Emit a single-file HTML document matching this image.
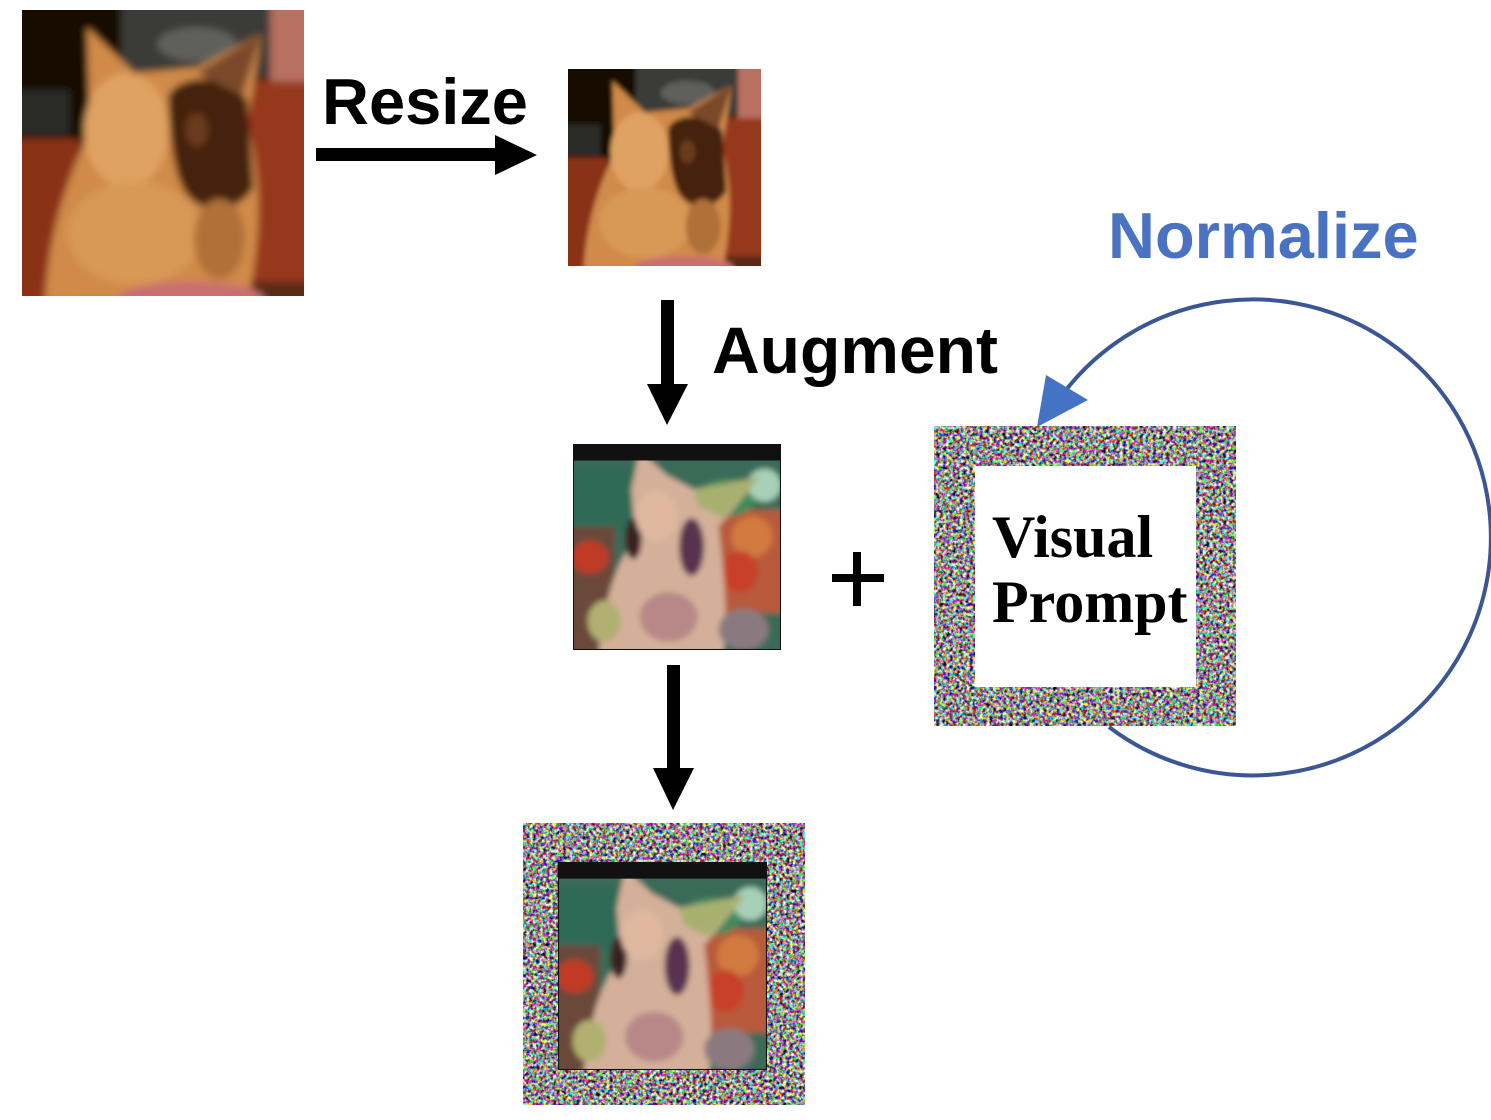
<!DOCTYPE html>
<html>
<head>
<meta charset="utf-8">
<style>
html,body{margin:0;padding:0;background:#fff;}
body{width:1491px;height:1120px;overflow:hidden;}
svg{display:block;}
</style>
</head>
<body>
<svg width="1491" height="1120" viewBox="0 0 1491 1120" xmlns="http://www.w3.org/2000/svg">
<defs>
  <filter id="noise" x="0" y="0" width="1" height="1" color-interpolation-filters="sRGB">
    <feTurbulence type="fractalNoise" baseFrequency="0.3" numOctaves="3" seed="7"/>
    <feComponentTransfer>
      <feFuncR type="linear" slope="3.0" intercept="-0.92"/>
      <feFuncG type="linear" slope="3.0" intercept="-0.94"/>
      <feFuncB type="linear" slope="3.0" intercept="-0.94"/>
      <feFuncA type="linear" slope="0" intercept="1"/>
    </feComponentTransfer>
    <feColorMatrix type="saturate" values="0.75"/>
  </filter>
  <filter id="blur1" x="-20%" y="-20%" width="140%" height="140%">
    <feGaussianBlur stdDeviation="1.3"/>
  </filter>
  <filter id="blur2" x="-20%" y="-20%" width="140%" height="140%">
    <feGaussianBlur stdDeviation="1.4"/>
  </filter>

  <symbol id="cat" viewBox="0 0 100 100" preserveAspectRatio="none">
    <rect x="0" y="0" width="100" height="100" fill="#5a2a14"/>
    <g filter="url(#blur1)">
      <rect x="-5" y="-5" width="110" height="110" fill="#5a2a14"/>
      <rect x="-5" y="-5" width="48" height="50" fill="#120a05"/>
      <rect x="35" y="-5" width="58" height="28" fill="#3a3a38"/>
      <ellipse cx="62" cy="12" rx="14" ry="6" fill="#5e605c"/>
      <rect x="88" y="-5" width="17" height="42" fill="#b87060"/>
      <rect x="74" y="25" width="30" height="70" fill="#96381a"/>
      <rect x="-5" y="45" width="25" height="60" fill="#8a3015"/>
      <rect x="-5" y="28" width="22" height="16" fill="#2a2a28"/>
      <path d="M 8 102 C 10 72, 18 56, 24 42 L 23 6 L 40 22 L 62 20 L 85 8 L 80 40 C 86 60, 84 85, 80 102 Z" fill="#d08a48"/>
      <ellipse cx="37" cy="42" rx="15" ry="20" fill="#e0a262"/>
      <path d="M 52 30 C 56 22, 74 22, 80 32 L 82 62 C 76 72, 62 72, 57 62 C 54 56, 52 44, 52 30 Z" fill="#45220e"/>
      <path d="M 62 22 L 85 8 L 78 30 Z" fill="#7a4a2a"/>
      <ellipse cx="62" cy="42" rx="4" ry="6" fill="#6a3a1c"/>
      <ellipse cx="40" cy="78" rx="24" ry="18" fill="#d89856"/>
      <ellipse cx="70" cy="80" rx="9" ry="14" fill="#b07038"/>
      <ellipse cx="60" cy="101" rx="26" ry="6" fill="#c87070"/>
    </g>
  </symbol>

  <symbol id="aug" viewBox="0 0 100 100" preserveAspectRatio="none">
    <rect x="0" y="0" width="100" height="100" fill="#3a6a58"/>
    <g filter="url(#blur2)">
      <rect x="-5" y="-5" width="110" height="110" fill="#3a6a58"/>
      <rect x="-5" y="12" width="40" height="30" fill="#2f6a56"/>
      <rect x="-5" y="40" width="25" height="65" fill="#6a4a3a"/>
      <ellipse cx="8" cy="55" rx="9" ry="8" fill="#c03a25"/>
      <rect x="65" y="32" width="40" height="50" fill="#b85a3a"/>
      <ellipse cx="86" cy="45" rx="10" ry="10" fill="#d07a40"/>
      <ellipse cx="80" cy="62" rx="9" ry="10" fill="#c8402c"/>
      <ellipse cx="74" cy="26" rx="14" ry="9" fill="#3f8a5a"/>
      <ellipse cx="92" cy="20" rx="8" ry="8" fill="#a8d0b8"/>
      <path d="M 12 104 C 15 72, 22 56, 30 46 L 28 22 L 32 3 L 45 15 L 58 22 L 90 16 L 70 40 C 72 60, 75 80, 72 104 Z" fill="#d4b09a"/>
      <path d="M 58 22 L 90 16 L 72 36 L 60 30 Z" fill="#a8b070"/>
      <ellipse cx="57" cy="50" rx="6" ry="14" fill="#5a3050"/>
      <ellipse cx="29" cy="46" rx="4" ry="10" fill="#3a2020"/>
      <ellipse cx="40" cy="35" rx="10" ry="12" fill="#e0b8a0"/>
      <ellipse cx="15" cy="86" rx="8" ry="10" fill="#b0b070"/>
      <ellipse cx="82" cy="90" rx="12" ry="10" fill="#8a7a80"/>
      <ellipse cx="46" cy="84" rx="14" ry="12" fill="#b88888"/>
    </g>
    <rect x="-5" y="-5" width="110" height="13" fill="#111"/>
    <rect x="0" y="0" width="100" height="100" fill="none" stroke="#111" stroke-width="1"/>
  </symbol>
</defs>

<!-- Image 1 -->
<use href="#cat" x="22" y="10" width="282" height="286"/>

<!-- Resize -->
<text x="322" y="124" font-family="'Liberation Sans', Arial, sans-serif" font-weight="bold" font-size="65" fill="#000">Resize</text>
<rect x="316" y="148" width="181" height="13" fill="#000"/>
<polygon points="495,135 537,155 495,175" fill="#000"/>

<!-- Image 2 -->
<use href="#cat" x="568" y="69" width="193" height="197"/>

<!-- Augment arrow -->
<rect x="661" y="300" width="13" height="86" fill="#000"/>
<polygon points="647,384 688,384 667,425" fill="#000"/>
<text x="712" y="373" font-family="'Liberation Sans', Arial, sans-serif" font-weight="bold" font-size="66" fill="#000">Augment</text>

<!-- Image 3 (augmented) -->
<use href="#aug" x="573" y="444" width="208" height="206"/>

<!-- Plus -->
<rect x="832" y="574" width="52" height="8" fill="#000"/>
<rect x="853" y="552" width="8" height="54" fill="#000"/>

<!-- Down arrow 2 -->
<rect x="667" y="665" width="13" height="104" fill="#000"/>
<polygon points="653,768 694,768 673,810" fill="#000"/>

<!-- Visual Prompt -->
<rect x="934" y="426" width="302" height="300" fill="#888" filter="url(#noise)"/>
<rect x="975" y="466" width="221" height="221" fill="#fff"/>
<text font-family="'Liberation Serif', 'Times New Roman', serif" font-weight="bold" font-size="60" fill="#000">
  <tspan x="992" y="557">Visual</tspan>
  <tspan x="992" y="622">Prompt</tspan>
</text>

<!-- Normalize -->
<text x="1108" y="258" font-family="'Liberation Sans', Arial, sans-serif" font-weight="bold" font-size="65" fill="#4a72c2">Normalize</text>
<path d="M 1109 727 A 238 238 0 1 0 1066 390" fill="none" stroke="#3b5694" stroke-width="4"/>
<polygon points="1046,375 1088,400 1037,427" fill="#4472c4"/>

<!-- Final image -->
<rect x="523" y="823" width="282" height="282" fill="#888" filter="url(#noise)"/>
<use href="#aug" x="558" y="862" width="209" height="208"/>
</svg>
</body>
</html>
